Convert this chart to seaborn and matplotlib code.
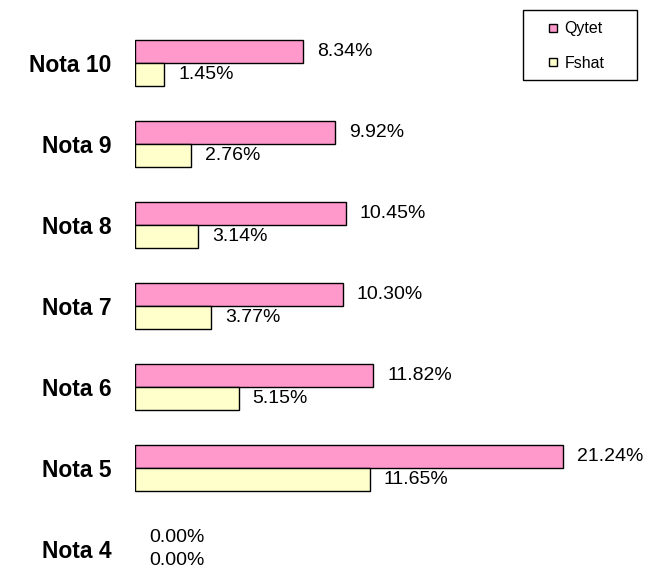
import pandas as pd
import matplotlib
matplotlib.use("Agg")
import matplotlib.pyplot as plt
from matplotlib.lines import Line2D
import seaborn as sns

# ========== DATA ==========
categories = ["Nota 10", "Nota 9", "Nota 8", "Nota 7", "Nota 6", "Nota 5", "Nota 4"]
qytet = [8.34, 9.92, 10.45, 10.30, 11.82, 21.24, 0.00]
fshat = [1.45, 2.76, 3.14, 3.77, 5.15, 11.65, 0.00]
series = ["Qytet", "Fshat"]
colors = ["#FF99CC", "#FFFFCC"]

df = pd.DataFrame({
    "nota": categories * 2,
    "vlera": qytet + fshat,
    "zona": [series[0]] * len(categories) + [series[1]] * len(categories),
})

# ========== PLOT ==========
sns.set_style("white")
plt.rcParams["font.family"] = ["Liberation Sans", "DejaVu Sans"]
plt.rcParams["text.color"] = "black"
plt.rcParams["ytick.color"] = "black"

fig = plt.figure(figsize=(6.59, 5.72), dpi=100)
ax = fig.add_axes([135 / 659, 0, 1 - 135 / 659, 1])

sns.barplot(data=df, y="nota", x="vlera", hue="zona", order=categories,
            hue_order=series, palette=colors, orient="h", width=0.57,
            edgecolor="black", linewidth=1, saturation=1, ax=ax, legend=False)

# zero bars: no outline
for cont in ax.containers:
    for b in cont:
        if b.get_width() == 0:
            b.set_linewidth(0)
    ax.bar_label(cont, labels=[f"{b.get_width():.2f}%" for b in cont],
                 padding=10, fontsize=14, color="black")

ax.set_xlim(0, 26)
ax.set_ylim(6.28, -0.78)
ax.set_xlabel("")
ax.set_ylabel("")
ax.set_xticks([])
ax.tick_params(axis="y", length=0, pad=17)
for lbl in ax.get_yticklabels():
    lbl.set_fontweight("bold")
    lbl.set_fontsize(16.5)
    lbl.set_color("black")
for s in ax.spines.values():
    s.set_visible(False)

# legend box
fig.patches.append(plt.Rectangle((523 / 659, 1 - 80 / 572), 114 / 659, 70 / 572,
                                 transform=fig.transFigure, fill=False,
                                 edgecolor="black", linewidth=1))
handles = [Line2D([], [], linestyle="none", marker="s", markersize=6,
                  markerfacecolor=c, markeredgecolor="black", markeredgewidth=1)
           for c in colors]
fig.legend(handles, series, loc="center left", bbox_to_anchor=(547 / 659, 1 - 46 / 572),
           fontsize=11.5, frameon=False, handlelength=0.8, handletextpad=0.3,
           labelspacing=1.2, borderpad=0, borderaxespad=0)

fig.savefig("out.png", dpi=100)
